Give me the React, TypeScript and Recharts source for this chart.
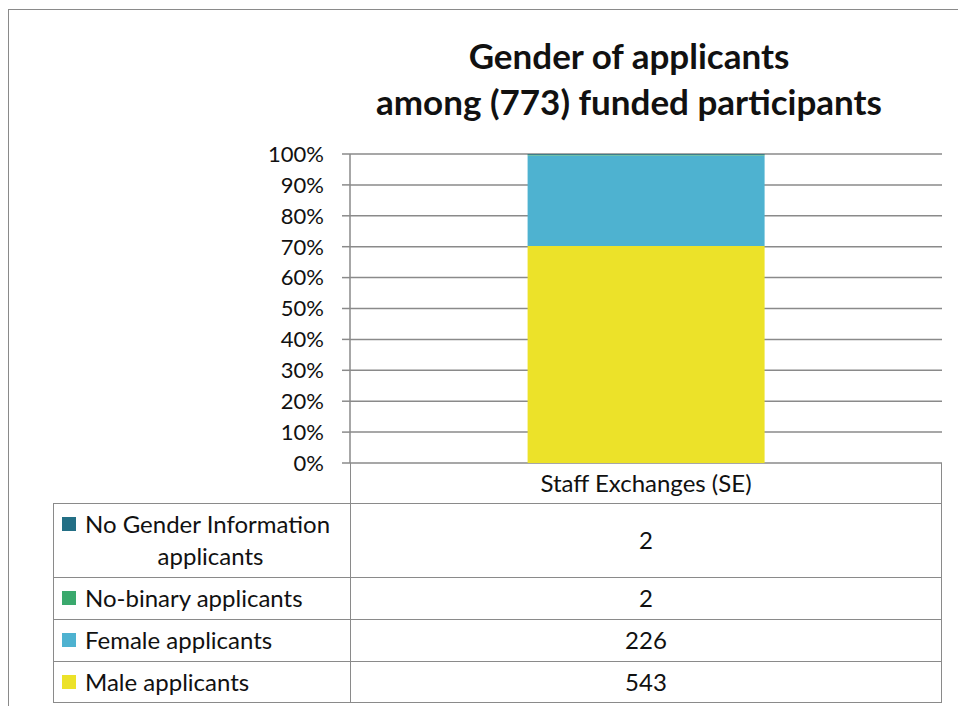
import React from "react";
import { BarChart, Bar, XAxis, YAxis, CartesianGrid } from "recharts";

const categories = ["Staff Exchanges (SE)"];
const seriesNames = [
  "No Gender Information applicants",
  "No-binary applicants",
  "Female applicants",
  "Male applicants",
];
const seriesKeys = ["noInfo", "nonBinary", "female", "male"];
const seriesColors = ["#236f85", "#3aa96d", "#4eb2d0", "#ece229"];
const noInfoValues = [2];
const nonBinaryValues = [2];
const femaleValues = [226];
const maleValues = [543];
const yTicks = [0, 0.1, 0.2, 0.3, 0.4, 0.5, 0.6, 0.7, 0.8, 0.9, 1];

const data = categories.map((name, i) => ({
  name,
  male: maleValues[i],
  female: femaleValues[i],
  nonBinary: nonBinaryValues[i],
  noInfo: noInfoValues[i],
}));

const values: Record<string, number[]> = {
  noInfo: noInfoValues,
  nonBinary: nonBinaryValues,
  female: femaleValues,
  male: maleValues,
};

const FONT = "Lato, 'Open Sans', sans-serif";
const LINE = "#8a8a8a";

// table rows (legend side) top/bottom in px
const rowEdges = [503, 577, 619, 661, 703];

export default function App() {
  const stackOrder = ["male", "female", "nonBinary", "noInfo"];
  return (
    <div
      style={{
        position: "absolute",
        left: 0,
        top: 0,
        width: 958,
        height: 706,
        overflow: "hidden",
        background: "#fff",
        fontFamily: FONT,
        color: "#111",
      }}
    >
      <div
        style={{
          position: "absolute",
          left: 8,
          top: 9,
          width: 980,
          height: 720,
          border: `1.5px solid ${LINE}`,
        }}
      />
      <div
        style={{
          position: "absolute",
          left: 300,
          width: 658,
          top: 32,
          textAlign: "center",
          fontWeight: 700,
          fontSize: 35,
          lineHeight: "46px",
        }}
      >
        Gender of applicants
        <br />
        among (773) funded participants
      </div>
      <BarChart
        width={958}
        height={706}
        data={data}
        stackOffset="expand"
        barCategoryGap="30%"
        margin={{ top: 154, right: 16, bottom: 243, left: 290 }}
        style={{ position: "absolute", left: 0, top: 0 }}
      >
        <CartesianGrid vertical={false} stroke={LINE} strokeWidth={1.5} />
        <XAxis dataKey="name" hide />
        <YAxis
          width={60}
          domain={[0, 1]}
          ticks={yTicks}
          interval={0}
          tickFormatter={(v: number) => `${Math.round(v * 100)}%`}
          axisLine={{ stroke: LINE, strokeWidth: 1.5 }}
          tickLine={{ stroke: LINE, strokeWidth: 1.5 }}
          tickSize={8}
          tickMargin={18}
          tick={{ fill: "#111", fontSize: 22, fontFamily: FONT }}
        />
        {stackOrder.map((k) => (
          <Bar
            key={k}
            dataKey={k}
            stackId="a"
            fill={seriesColors[seriesKeys.indexOf(k)]}
            isAnimationActive={false}
          />
        ))}
      </BarChart>

      {/* data table */}
      <div
        style={{
          position: "absolute",
          left: 350,
          top: 463,
          width: 592,
          height: 240,
          borderLeft: `1.5px solid ${LINE}`,
          borderRight: `1.5px solid ${LINE}`,
          boxSizing: "border-box",
        }}
      />
      <div
        style={{
          position: "absolute",
          left: 350,
          top: 463,
          width: 592,
          height: 40,
          lineHeight: "40px",
          textAlign: "center",
          fontSize: 24,
        }}
      >
        {categories[0]}
      </div>
      {seriesKeys.map((k, i) => {
        const top = rowEdges[i];
        const h = rowEdges[i + 1] - rowEdges[i];
        const name = seriesNames[i];
        const twoLine = i === 0;
        return (
          <React.Fragment key={k}>
            <div
              style={{
                position: "absolute",
                left: 53,
                top,
                width: 889,
                height: h,
                border: `1.5px solid ${LINE}`,
                borderBottom: i === 3 ? `1.5px solid ${LINE}` : "none",
                boxSizing: "border-box",
              }}
            />
            <div
              style={{
                position: "absolute",
                left: 62,
                top,
                width: 288,
                height: h,
                fontSize: 24,
                display: "flex",
                flexDirection: "column",
                justifyContent: "center",
                lineHeight: "32px",
              }}
            >
              <div style={{ display: "flex", alignItems: "center" }}>
                <span
                  style={{
                    display: "inline-block",
                    width: 14,
                    height: 14,
                    background: seriesColors[i],
                    marginRight: 9,
                    flexShrink: 0,
                  }}
                />
                <span style={{ whiteSpace: "nowrap" }}>
                  {twoLine ? "No Gender Information" : name}
                </span>
              </div>
              {twoLine && (
                <div style={{ textAlign: "center", paddingLeft: 9 }}>applicants</div>
              )}
            </div>
            <div
              style={{
                position: "absolute",
                left: 350,
                top,
                width: 592,
                height: h,
                lineHeight: `${h}px`,
                textAlign: "center",
                fontSize: 24,
              }}
            >
              {values[k][0]}
            </div>
          </React.Fragment>
        );
      })}
    </div>
  );
}
